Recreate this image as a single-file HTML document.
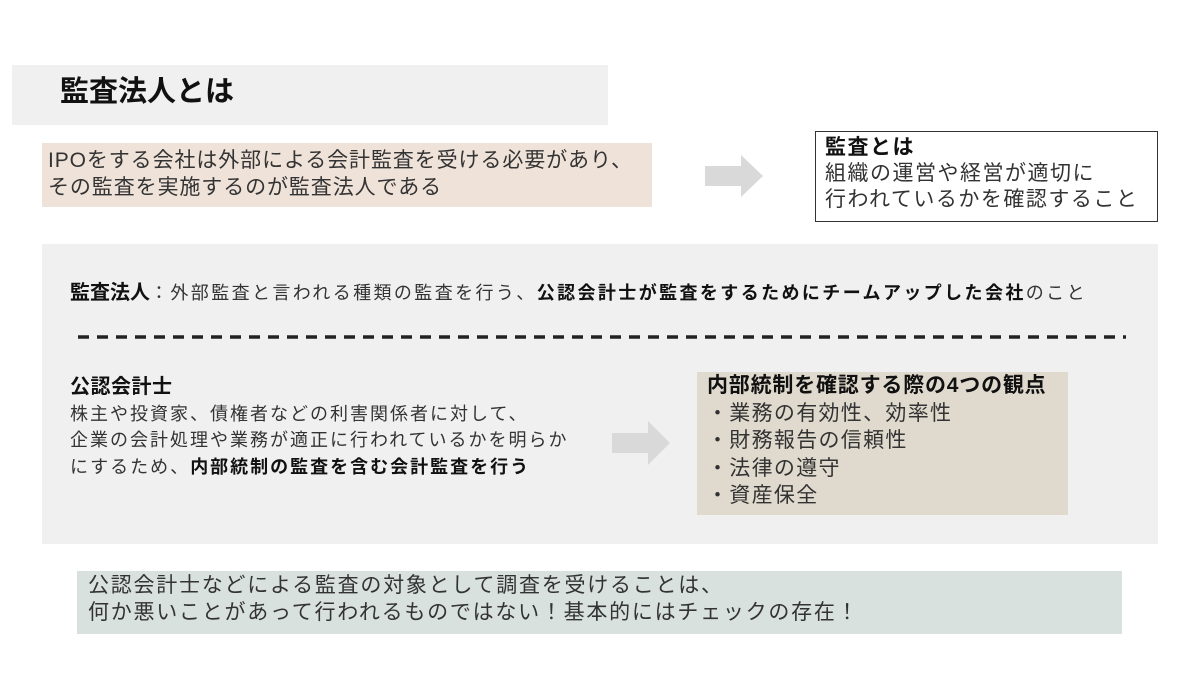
<!DOCTYPE html>
<html><head><meta charset="utf-8"><style>
*{margin:0;padding:0;box-sizing:border-box}
body{width:1200px;height:675px;background:#fff;position:relative;overflow:hidden;font-family:"Liberation Sans","Noto Sans CJK JP",sans-serif;color:#333}
.a{position:absolute;white-space:nowrap}
.b{font-weight:bold;color:#111}
</style></head><body>
<div class="a" style="left:12px;top:65px;width:596px;height:60px;background:#f0f0f0"></div>
<div class="a b" style="left:60px;top:73px;font-size:29px;line-height:38px">監査法人とは</div>

<div class="a" style="left:42px;top:143px;width:610px;height:64px;background:#efe2d9"></div>
<div class="a" style="left:48px;top:147px;font-size:21px;line-height:27px;letter-spacing:0.9px">IPOをする会社は外部による会計監査を受ける必要があり、<br>その監査を実施するのが監査法人である</div>

<svg class="a" style="left:705px;top:155px" width="58" height="42"><polygon points="0,11 36,11 36,0 58,21 36,42 36,31 0,31" fill="#d9d9d9"/></svg>

<div class="a" style="left:815px;top:131px;width:343px;height:91px;border:1px solid #333;background:#fff"></div>
<div class="a" style="left:825px;top:135px;font-size:21px;line-height:26px;letter-spacing:1.5px"><span class="b">監査とは</span><br>組織の運営や経営が適切に<br>行われているかを確認すること</div>

<div class="a" style="left:42px;top:244px;width:1116px;height:300px;background:#f0f0f0"></div>
<div class="a" style="left:70px;top:280px;font-size:18px;line-height:26px;letter-spacing:2.4px"><span class="b" style="font-size:20px;letter-spacing:0">監査法人</span>：外部監査と言われる種類の監査を行う、<span class="b">公認会計士が監査をするためにチームアップした会社</span>のこと</div>
<svg class="a" style="left:78px;top:333px" width="1050" height="8"><line x1="0" y1="4" x2="1048" y2="4" stroke="#222" stroke-width="3.5" stroke-dasharray="11,8"/></svg>

<div class="a" style="left:70px;top:374px;font-size:18px;line-height:26.5px;letter-spacing:2px"><span class="b" style="font-size:20px;letter-spacing:0.5px">公認会計士</span><br>株主や投資家、債権者などの利害関係者に対して、<br>企業の会計処理や業務が適正に行われているかを明らか<br>にするため、<span class="b">内部統制の監査を含む会計監査を行う</span></div>

<svg class="a" style="left:612px;top:421px" width="58" height="44"><polygon points="0,12 36,12 36,0 58,22 36,44 36,32 0,32" fill="#d9d9d9"/></svg>

<div class="a" style="left:697px;top:372px;width:371px;height:143px;background:#e0dace"></div>
<div class="a" style="left:707px;top:372px;font-size:21px;line-height:27.5px;letter-spacing:1.3px"><span class="b" style="letter-spacing:0.8px">内部統制を確認する際の4つの観点</span><br>・業務の有効性、効率性<br>・財務報告の信頼性<br>・法律の遵守<br>・資産保全</div>

<div class="a" style="left:77px;top:571px;width:1045px;height:63px;background:#d9e1df"></div>
<div class="a" style="left:88px;top:573px;font-size:21px;line-height:26.5px;letter-spacing:1.75px">公認会計士などによる監査の対象として調査を受けることは、<br>何か悪いことがあって行われるものではない！基本的にはチェックの存在！</div>
</body></html>
